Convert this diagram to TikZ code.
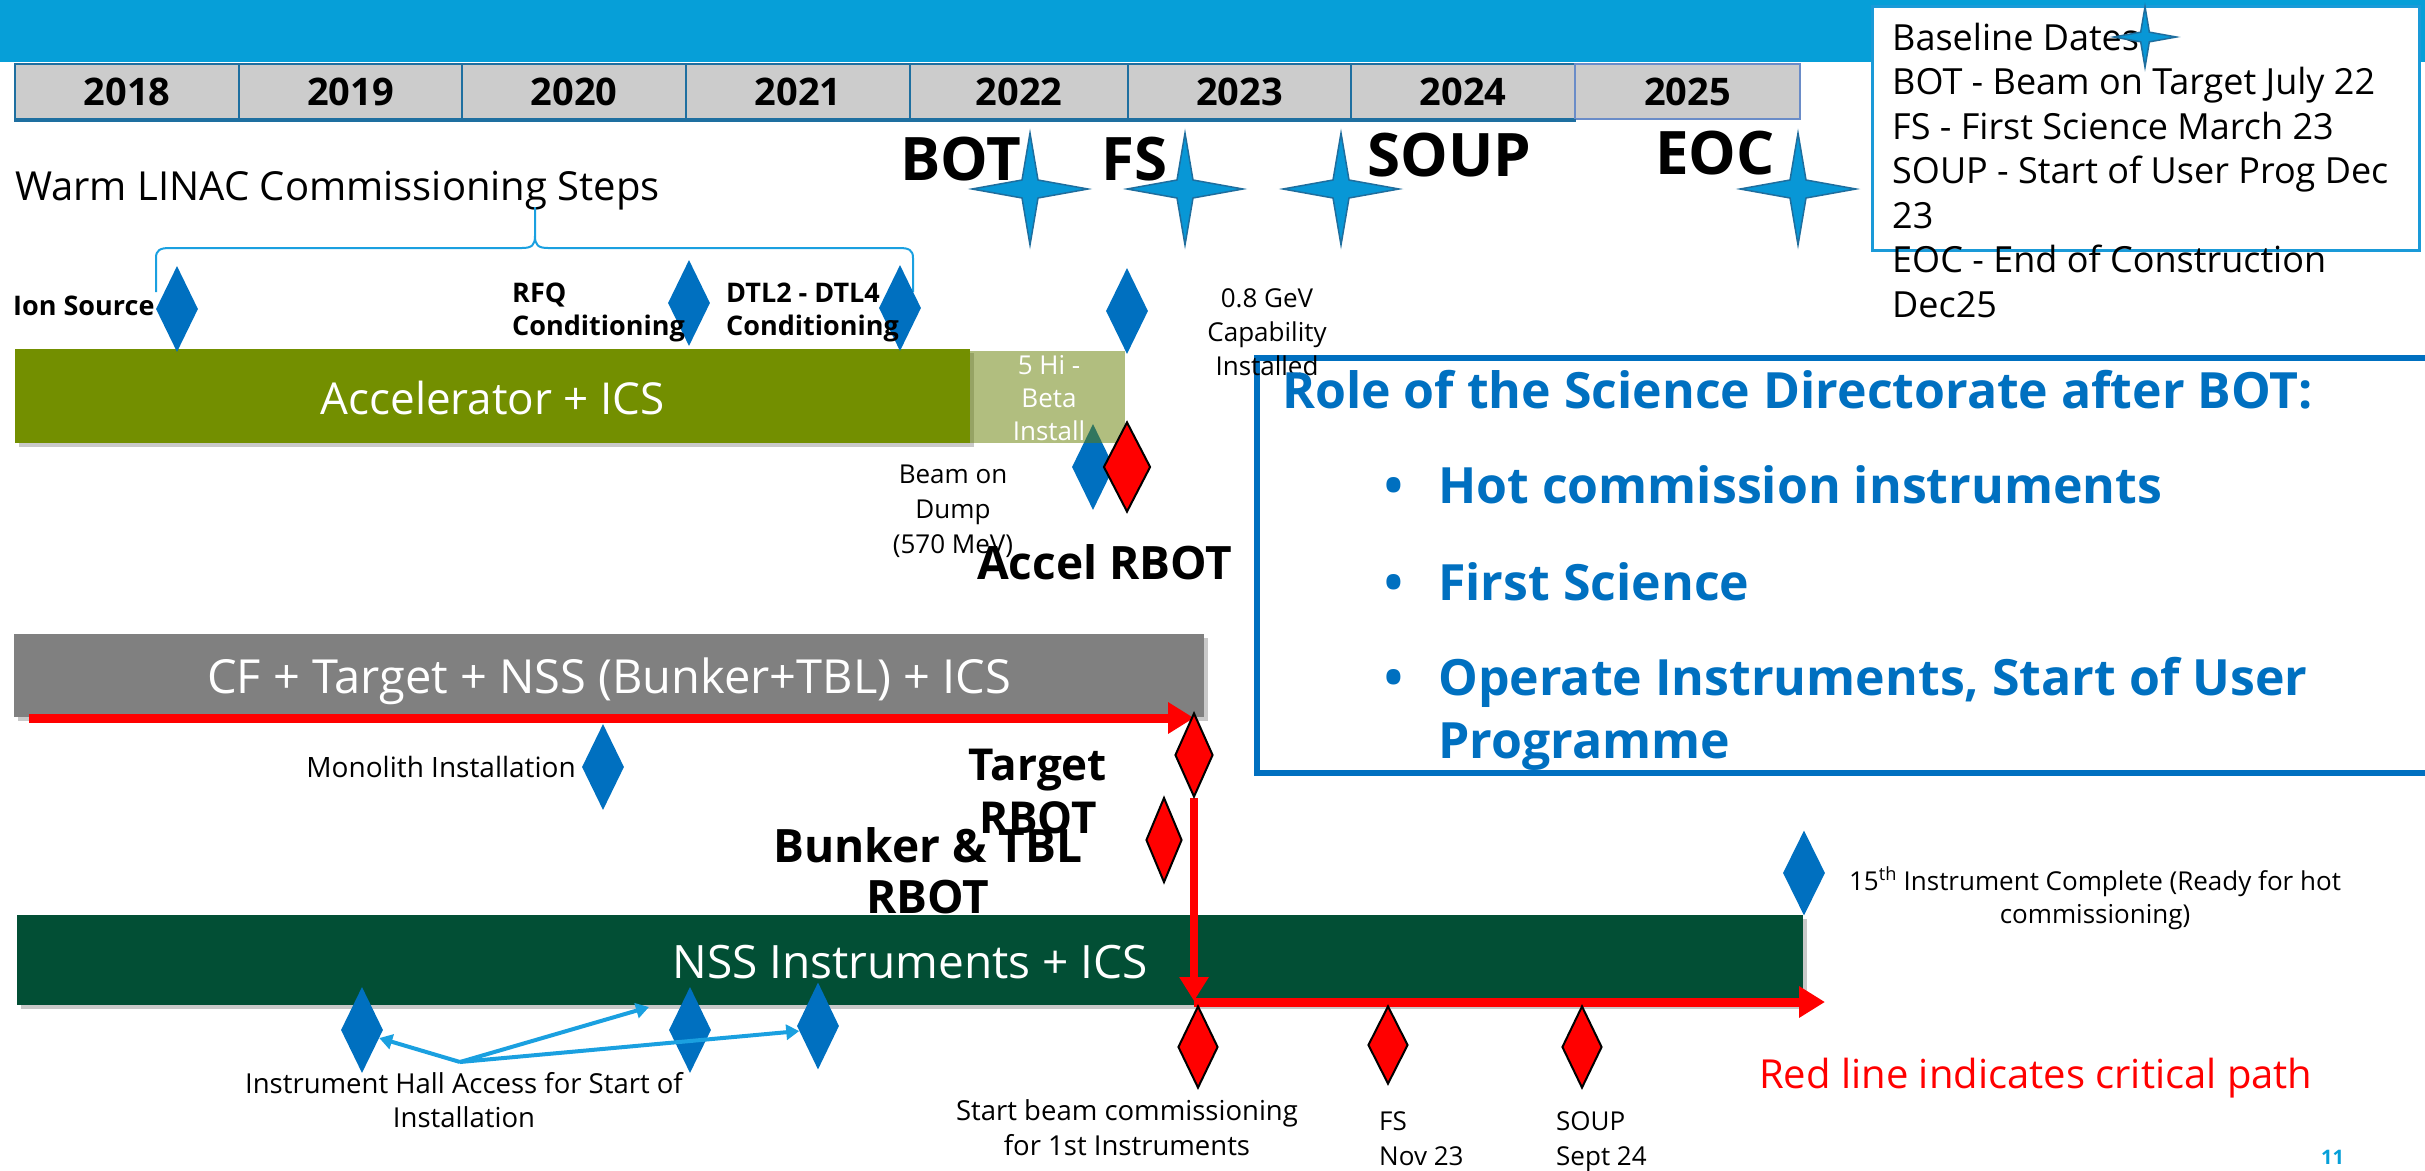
\documentclass[tikz,border=0pt]{standalone}
\usepackage{fontspec}
\setmainfont{Open Sans}
\usetikzlibrary{shapes.geometric,arrows.meta,shadows,calc}

\definecolor{banner}{HTML}{069FD8}
\definecolor{cellgray}{HTML}{CCCCCC}
\definecolor{cellline}{HTML}{1E6FA0}
\definecolor{lastcell}{HTML}{6A8CC8}
\definecolor{msblue}{HTML}{0070C0}
\definecolor{starblue}{HTML}{0897D6}
\definecolor{staredge}{HTML}{1F6E9E}
\definecolor{olive}{HTML}{738F00}
\definecolor{hibeta}{RGB}{100,125,0}
\definecolor{cfgray}{HTML}{808080}
\definecolor{nssgreen}{HTML}{024F35}
\definecolor{lightblue}{HTML}{1AA0E0}
\definecolor{critred}{HTML}{FF0000}
\definecolor{dateline}{HTML}{1A9AD8}

\newcommand\fsz[2]{\fontsize{#1}{#2}\selectfont}

\pgfdeclarelayer{front}
\pgfsetlayers{main,front}

\tikzset{
  x=1pt, y=-1pt,
  yearcell/.style={draw=cellline, line width=2pt, fill=cellgray, anchor=north west,
    minimum height=55pt, inner sep=0pt, font=\fsz{38}{44}\bfseries, text=black},
  bar/.style={inner sep=0pt, anchor=north west, text=white, text height=36pt, text depth=0pt,
    font=\fsz{44}{52}, drop shadow={shadow xshift=4pt, shadow yshift=-4pt, opacity=0.3, fill=black!70}},
  bluems/.style={diamond, inner sep=0pt, fill=msblue, minimum width=42pt, minimum height=86pt},
  redms/.style={diamond, inner sep=0pt, fill=critred, draw=black, line width=2pt,
    minimum width=40pt, minimum height=82pt},
  lbl/.style={inner sep=0pt, font=\fsz{26}{34}, text=black},
  boldlbl/.style={inner sep=0pt, font=\fsz{27}{33}\bfseries, text=black},
  keyword/.style={inner sep=0pt, font=\fsz{60}{70}\bfseries, text=black, anchor=base west},
  rbotlbl/.style={inner sep=0pt, font=\fsz{44}{53}\bfseries, text=black, align=center, anchor=base},
  roletext/.style={inner sep=0pt, font=\fsz{50}{63}\bfseries, text=msblue, anchor=base west, align=left},
  critical/.style={critred, line width=9pt, -{Triangle[length=26pt,width=30pt]}},
  hallarrow/.style={lightblue, line width=4pt, -{Triangle[length=13pt,width=15pt]}},
  star4/.pic={\path[draw=staredge, line width=1.5pt, fill=starblue]
      (0,-56) -- (8,-9) -- (58,0) -- (8,9) -- (0,56) -- (-8,9) -- (-58,0) -- (-8,-9) -- cycle;}
}

\begin{document}
\begin{tikzpicture}
\useasboundingbox (0,0) rectangle (2425,1170);

% header band
\fill[banner] (0,0) rectangle (2425,62);

% year scale
\node[yearcell, minimum width=224pt] (y2018) at (14,63) {2018};
\node[yearcell, minimum width=223pt] (y2019) at (238,63) {2019};
\node[yearcell, minimum width=224pt] (y2020) at (461,63) {2020};
\node[yearcell, minimum width=224pt] (y2021) at (685,63) {2021};
\node[yearcell, minimum width=218pt] (y2022) at (909,63) {2022};
\node[yearcell, minimum width=223pt] (y2023) at (1127,63) {2023};
\node[yearcell, minimum width=224pt] (y2024) at (1350,63) {2024};
\node[yearcell, minimum width=225pt, draw=lastcell] (y2025) at (1574,63) {2025};
\draw[cellline, line width=3pt] (y2018.south west) -- (y2024.south east);

% baseline dates legend
\node[draw=dateline, line width=2.5pt, fill=white, anchor=north west, inner sep=0pt,
  minimum width=547pt, minimum height=244pt] (datesbox) at (1871,5) {};
\node[inner sep=0pt, font=\fsz{36}{44.5}, align=left, anchor=base west] (datestext) at (1892,317)
  {Baseline Dates\\BOT - Beam on Target July 22\\FS - First Science March 23\\SOUP - Start of User Prog Dec\\23\\EOC - End of Construction\\Dec25};
\pic[scale=0.54] at (2145,37) {star4};

% key dates
\node[keyword] (botlbl) at (900,180) {BOT};
\node[keyword] (fslbl) at (1101,180) {FS};
\node[keyword] (souplbl) at (1367,176) {SOUP};
\node[keyword] (eoclbl) at (1655,174) {EOC};
\pic at (1030,189) {star4};
\pic at (1185,189) {star4};
\pic at (1341,189) {star4};
\pic at (1798,189) {star4};

% warm linac commissioning
\node[inner sep=0pt, font=\fsz{40}{48}, anchor=base west] (warmlbl) at (15,200) {Warm LINAC Commissioning Steps};
\draw[lightblue, line width=2pt, line join=round]
  (156,292) -- (156,258) .. controls (156,250) and (160,248) .. (170,248)
  -- (522,248) .. controls (532,248) and (535,245) .. (535,236) -- (535,207);
\draw[lightblue, line width=2pt, line join=round]
  (913,292) -- (913,258) .. controls (913,250) and (909,248) .. (899,248)
  -- (548,248) .. controls (538,248) and (535,245) .. (535,236);

% accelerator
\node[bar, fill=olive, minimum width=955pt, minimum height=94pt] (accbar) at (15,349) {Accelerator + ICS};
\node[bluems] (ionms) at (177,309) {};
\node[bluems] (rfqms) at (689,303) {};
\node[bluems] (dtlms) at (900,308) {};
\node[bluems] (capms) at (1127,311) {};
\node[bluems] (dumpms) at (1093,467) {};
\node[fill=hibeta, fill opacity=0.5, anchor=north west, inner sep=0pt,
  minimum width=155pt, minimum height=92pt] (hibox) at (970,351) {};
\node[lbl, text=white, align=center, anchor=base, font=\fsz{26}{33}] (hilbl) at (1049,440) {5 Hi -\\Beta\\Install};
\node[redms, minimum width=47pt, minimum height=90pt] (accms) at (1127,467) {};

\node[boldlbl, anchor=base west] (ionlbl) at (13,315) {Ion Source};
\node[boldlbl, anchor=base west, align=left] (rfqlbl) at (512,335) {RFQ\\Conditioning};
\node[boldlbl, anchor=base west, align=left] (dtllbl) at (726,335) {DTL2 - DTL4\\Conditioning};
\node[lbl, align=center, anchor=base, font=\fsz{26}{35}] (dumplbl) at (953,553) {Beam on\\Dump\\(570 MeV)};
\node[inner sep=0pt, font=\fsz{46}{54}\bfseries, anchor=base west] (acclbl) at (977,579) {Accel RBOT};

% science directorate
\draw[msblue, line width=6pt] (2440,358) -- (1257,358) -- (1257,773) -- (2440,773);
\node[lbl, align=center, anchor=base] (caplbl) at (1267,375) {0.8 GeV\\Capability\\Installed};
\node[roletext] (roletitle) at (1282,408) {Role of the Science Directorate after BOT:};
\node[roletext] (role1) at (1384,503) {\makebox[54pt][l]{•}Hot commission instruments};
\node[roletext] (role2) at (1384,600) {\makebox[54pt][l]{•}First Science};
\node[roletext] (role3) at (1384,758) {\makebox[54pt][l]{•}Operate Instruments, Start of User\\\hspace*{54pt}Programme};

% target and bunker
\node[bar, fill=cfgray, minimum width=1190pt, minimum height=83pt, font=\fsz{47}{54}] (cfbar) at (14,634) {CF + Target + NSS (Bunker+TBL) + ICS};
\coordinate (cpstart) at (29,718);
\node[bluems] (monoms) at (603,767) {};
\node[lbl, anchor=base east, font=\fsz{28}{34}] (monolbl) at (576,777) {Monolith Installation};
\begin{pgfonlayer}{front}
\node[redms, minimum width=38pt, minimum height=84pt] (tgtms) at (1194,755) {};
\node[redms, minimum width=36pt, minimum height=85pt] (bnkms) at (1164,840) {};
\end{pgfonlayer}
\node[rbotlbl] (tgtlbl) at (1038,833) {Target\\RBOT};
\node[rbotlbl, font=\fsz{46}{51}\bfseries] (bnklbl) at (928,913) {Bunker \& TBL\\RBOT};

% instruments
\node[bar, fill=nssgreen, minimum width=1786pt, minimum height=90pt, font=\fsz{46}{52}] (nssbar) at (17,915) {NSS Instruments + ICS};
\node[bluems, minimum height=86pt] (hall1) at (362,1030) {};
\node[bluems, minimum height=86pt] (hall2) at (690,1030) {};
\node[bluems, minimum height=87pt] (hall3) at (818,1026) {};
\node[bluems, minimum height=85pt] (inst15) at (1804,873) {};
\coordinate (hallhub) at (460,1062);
\coordinate (hall2tip) at (649,1007);
\draw[hallarrow] (hallhub) -- (hall1.-25);
\draw[hallarrow] (hallhub) -- (hall2tip);
\draw[hallarrow] (hallhub) -- (hall3.-165);
\node[lbl, align=center, anchor=base, font=\fsz{27.5}{34}] (halllbl) at (464,1127) {Instrument Hall Access for Start of\\Installation};
\node[lbl, align=center, anchor=base, font=\fsz{26}{33}] (i15lbl) at (2095,923)
  {15\textsuperscript{th} Instrument Complete (Ready for hot\\commissioning)};

% critical path
\coordinate (cpend) at (1825,1002);
\draw[critical] (cpstart) -- (cpstart -| tgtms.north);
\draw[critical, -{Triangle[length=24pt,width=28pt]}, line width=8pt] (tgtms.south) -- ($(tgtms.south |- cpend)+(0,-1)$);
\draw[critical] (tgtms.south |- cpend) -- (cpend);
\node[redms] (sbcms) at (1198,1047) {};
\node[redms, minimum height=78pt] (fsms) at (1388,1045) {};
\node[redms] (soupms) at (1582,1047) {};
\node[lbl, align=center, anchor=base, font=\fsz{27.5}{35}] (sbclbl) at (1127,1155) {Start beam commissioning\\for 1st Instruments};
\node[lbl, align=left, anchor=base west, font=\fsz{26}{35}] (fsdate) at (1379,1165) {FS\\Nov 23};
\node[lbl, align=left, anchor=base west, font=\fsz{26}{35}] (soupdate) at (1556,1165) {SOUP\\Sept 24};
\node[inner sep=0pt, font=\fsz{40}{46}, text=critred, anchor=base west] (critlbl) at (1759,1088) {Red line indicates critical path};
\node[inner sep=0pt, font=\fsz{20}{24}\bfseries, text=banner, anchor=base west] (pageno) at (2321,1164) {11};
\end{tikzpicture}
\end{document}
